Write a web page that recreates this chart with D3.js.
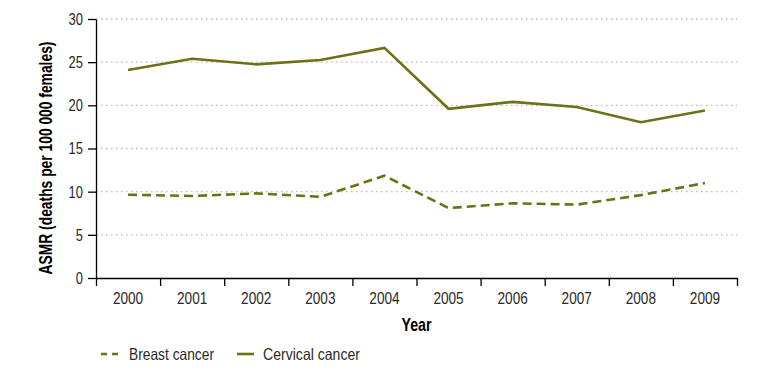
<!DOCTYPE html>
<html>
<head>
<meta charset="utf-8">
<script src="https://cdn.jsdelivr.net/npm/d3@7"></script>
<style>
  body { margin: 0; background: #fff; }
  text { font-family: "Liberation Sans", Arial, sans-serif; fill: #2a2a2a; }
  .axis path, .axis line { stroke: #000; stroke-width: 1.3; }
  .grid line { stroke: #b8b8b8; stroke-width: 1.3; stroke-dasharray: 1.5,3.5; }
</style>
</head>
<body>
<div id="wrapper"></div>
<script>
// data
const years = ["2000", "2001", "2002", "2003", "2004", "2005", "2006", "2007", "2008", "2009"]
const breastCancer = [9.65, 9.5, 9.8, 9.4, 11.85, 8.1, 8.65, 8.5, 9.6, 11.0]
const cervicalCancer = [24.1, 25.4, 24.75, 25.25, 26.65, 19.6, 20.4, 19.8, 18.05, 19.4]
const yTicks = [0, 5, 10, 15, 20, 25, 30]
const seriesNames = ["Breast cancer", "Cervical cancer"]

const lineColor = "#6c7115"

// squeeze text horizontally to imitate a condensed face
function condense(sel, factor) {
  sel.each(function () {
    const len = this.getComputedTextLength()
    d3.select(this)
      .attr("textLength", len * factor)
      .attr("lengthAdjust", "spacingAndGlyphs")
  })
}

// dimensions
let dimensions = {
  width: 771,
  height: 371,
  margin: { top: 19, right: 34, bottom: 93, left: 96 },
}
dimensions.boundedWidth = dimensions.width - dimensions.margin.left - dimensions.margin.right
dimensions.boundedHeight = dimensions.height - dimensions.margin.top - dimensions.margin.bottom

const wrapper = d3.select("#wrapper")
  .append("svg")
  .attr("width", dimensions.width)
  .attr("height", dimensions.height)

const bounds = wrapper.append("g")
  .attr("transform", `translate(${dimensions.margin.left},${dimensions.margin.top})`)

// scales
const xScale = d3.scaleBand()
  .domain(years)
  .range([0, dimensions.boundedWidth])
const xEdge = d3.scaleLinear()
  .domain([0, years.length])
  .range([0, dimensions.boundedWidth])
const yScale = d3.scaleLinear()
  .domain([0, 30])
  .range([dimensions.boundedHeight, 0])

// gridlines
bounds.append("g")
  .attr("class", "grid")
  .selectAll("line")
  .data(yTicks.filter(d => d > 0))
  .join("line")
  .attr("x1", 0)
  .attr("x2", dimensions.boundedWidth)
  .attr("y1", d => yScale(d))
  .attr("y2", d => yScale(d))

// lines
const lineGen = values => d3.line()
  .x((d, i) => xScale(years[i]) + xScale.bandwidth() / 2)
  .y(d => yScale(d))(values)

bounds.append("path")
  .attr("d", lineGen(cervicalCancer))
  .attr("fill", "none")
  .attr("stroke", lineColor)
  .attr("stroke-width", 2.6)

bounds.append("path")
  .attr("d", lineGen(breastCancer))
  .attr("fill", "none")
  .attr("stroke", lineColor)
  .attr("stroke-width", 2.6)
  .attr("stroke-dasharray", "9,5")

// axes
const yAxis = bounds.append("g")
  .attr("class", "axis")
  .call(d3.axisLeft(yScale).tickValues(yTicks).tickSize(8).tickSizeOuter(0).tickPadding(5))
yAxis.selectAll("text").style("font-size", "17px").attr("fill", "#2a2a2a")
  .call(condense, 0.76)

bounds.append("g")
  .attr("class", "axis")
  .attr("transform", `translate(0,${dimensions.boundedHeight})`)
  .call(d3.axisBottom(xEdge).tickValues(d3.range(years.length + 1)).tickFormat("").tickSize(8).tickSizeOuter(0))

const xLabels = bounds.append("g")
  .attr("transform", `translate(0,${dimensions.boundedHeight})`)
  .call(d3.axisBottom(xScale).tickSize(0).tickPadding(14))
xLabels.select(".domain").remove()
xLabels.selectAll("text").style("font-size", "17px").attr("fill", "#2a2a2a")
  .call(condense, 0.8)

// axis titles, squeezed with a scale so the box stays true
const xTitle = wrapper.append("g")
  .attr("transform", `translate(${dimensions.margin.left + dimensions.boundedWidth / 2},331)`)
const xTitleText = xTitle.append("text")
  .attr("text-anchor", "middle")
  .style("font-size", "18px")
  .style("font-weight", "bold")
  .style("fill", "#000")
  .text("Year")
xTitle.attr("transform", xTitle.attr("transform")
  + ` scale(${30 / xTitleText.node().getComputedTextLength()},1)`)

const yTitle = wrapper.append("g")
const yTitleText = yTitle.append("text")
  .attr("text-anchor", "middle")
  .style("font-size", "18px")
  .style("font-weight", "bold")
  .style("fill", "#000")
  .text("ASMR (deaths per 100 000 females)")
yTitle.attr("transform", `translate(52,158) rotate(-90) scale(${233 / yTitleText.node().getComputedTextLength()},1)`)

// legend
const legendLayout = [
  { x: 101, lineLen: 19, textX: 28, textLen: 85, dash: "6,5" },
  { x: 237, lineLen: 17, textX: 26, textLen: 97, dash: null },
]
const legend = wrapper.append("g")
  .attr("transform", "translate(0,354)")
const legendItems = legend.selectAll("g")
  .data(seriesNames)
  .join("g")
  .attr("transform", (d, i) => `translate(${legendLayout[i].x},0)`)
legendItems.append("line")
  .attr("x1", 0)
  .attr("x2", (d, i) => legendLayout[i].lineLen)
  .attr("stroke", lineColor)
  .attr("stroke-width", 2.6)
  .attr("stroke-dasharray", (d, i) => legendLayout[i].dash)
legendItems.append("text")
  .attr("x", (d, i) => legendLayout[i].textX)
  .attr("y", 6)
  .style("font-size", "16.5px")
  .text(d => d)
  .attr("textLength", (d, i) => legendLayout[i].textLen)
  .attr("lengthAdjust", "spacingAndGlyphs")
</script>
</body>
</html>
